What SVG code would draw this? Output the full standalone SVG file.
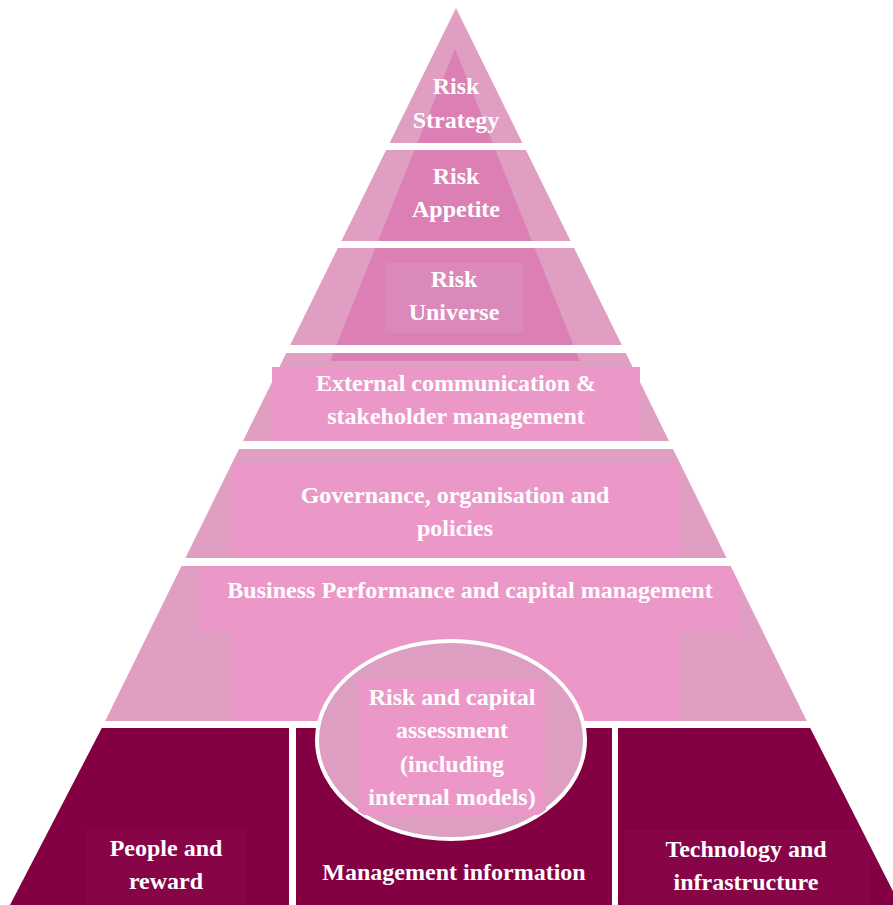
<svg xmlns="http://www.w3.org/2000/svg" width="893" height="905" viewBox="0 0 893 905">
<style>
.outer{fill:#DF9EC2}
.inner{fill:#DB7FB4}
.box{fill:#EB98C9}
.dark{fill:#830043}
.t{font-family:"Liberation Serif","Times New Roman",serif;font-weight:bold;font-size:24px;fill:#FFFFFF;text-anchor:middle}
</style>
<defs>
<clipPath id="ellClip"><ellipse cx="451" cy="740" rx="134" ry="99"/></clipPath>
</defs>
<rect width="893" height="905" fill="#FFFFFF"/>
<g id="risk-strategy">
<polygon class="outer" points="456,8 522.4,143 389.6,143"/>
<polygon class="inner" points="455,49 492.6,143 417.4,143"/>
<text class="t" x="456" y="94">Risk</text>
<text class="t" x="456" y="128">Strategy</text>
</g>
<g id="risk-appetite">
<polygon class="outer" points="386.1,150 525.9,150 570.6,241 341.4,241"/>
<polygon class="inner" points="414.6,150 495.4,150 531.8,241 378.2,241"/>
<text class="t" x="456" y="184">Risk</text>
<text class="t" x="456" y="217">Appetite</text>
</g>
<g id="risk-universe">
<polygon class="outer" points="337.9,248 574.1,248 621.8,345 290.2,345"/>
<polygon class="inner" points="375.4,248 534.6,248 573.4,345 336.6,345"/>
<rect x="385" y="263" width="138" height="70" fill="#DB88BA"/>
<text class="t" x="454" y="287">Risk</text>
<text class="t" x="454" y="320">Universe</text>
</g>
<g id="external-communication">
<polygon class="outer" points="286.3,353 625.7,353 669,441 243,441"/>
<polygon class="inner" points="333.4,353 576.6,353 579.8,361 330.2,361"/>
<rect class="box" x="272" y="367" width="368" height="74"/>
<text class="t" x="456" y="391">External communication &amp;</text>
<text class="t" x="456" y="424">stakeholder management</text>
</g>
<g id="governance">
<polygon class="outer" points="239,449 673,449 726.6,558 185.4,558"/>
<rect class="box" x="233" y="463" width="446" height="95"/>
<text class="t" x="455" y="503">Governance, organisation and</text>
<text class="t" x="455" y="536">policies</text>
</g>
<g id="business-performance">
<polygon class="outer" points="181.5,566 730.5,566 806.8,721 105.2,721"/>
<polygon class="box" points="201,566 730.5,566 739,583 739,634 680,634 680,721 234,721 234,634 201,634"/>
<text class="t" x="470" y="598">Business Performance and capital management</text>
</g>
<g id="people-reward">
<polygon class="dark" points="101.8,728 289,728 289,905 10,905"/>
<rect x="86" y="828" width="160" height="77" fill="#870447"/>
<text class="t" x="166" y="856">People and</text>
<text class="t" x="166" y="889">reward</text>
</g>
<g id="management-information">
<rect class="dark" x="296" y="728" width="316" height="177"/>
<text class="t" x="454" y="880">Management information</text>
</g>
<g id="technology-infrastructure">
<polygon class="dark" points="618,728 810.2,728 900,905 618,905"/>
<polygon points="624,830 861,830 870,848 870,905 624,905" fill="#870447"/>
<text class="t" x="746" y="857">Technology and</text>
<text class="t" x="746" y="890">infrastructure</text>
</g>
<g id="risk-capital-assessment">
<ellipse cx="451" cy="740" rx="134" ry="99" fill="#DE9EC1" stroke="#FFFFFF" stroke-width="4"/>
<rect class="box" x="358" y="680" width="188" height="135" clip-path="url(#ellClip)"/>
<text class="t" x="452" y="705">Risk and capital</text>
<text class="t" x="452" y="738">assessment</text>
<text class="t" x="452" y="772">(including</text>
<text class="t" x="452" y="805">internal models)</text>
</g>
<g id="connectors"></g>
</svg>
